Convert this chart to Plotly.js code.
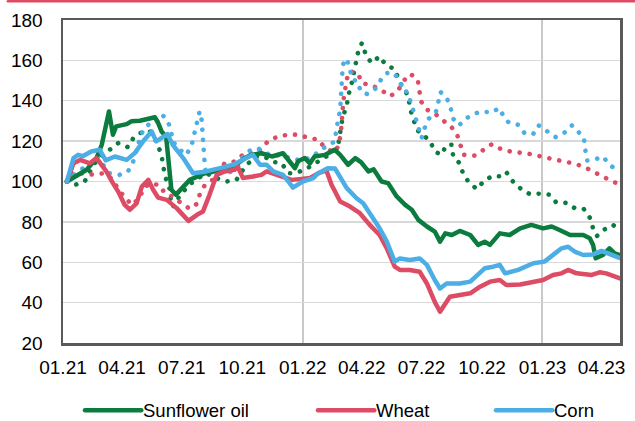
<!DOCTYPE html>
<html>
<head>
<meta charset="utf-8">
<script src="https://cdn.plot.ly/plotly-3.0.1.min.js"></script>
<style>
  html, body { margin: 0; padding: 0; background: #fff; }
  #chart { width: 635px; height: 421px; }
  .scatterlayer path.js-line { stroke-linecap: round; stroke-linejoin: round; }
  .shapelayer path { stroke-linecap: round; }
</style>
</head>
<body>
<div id="chart"></div>
<script>
// ---------- Data (index, 01.2021 = 100) ----------
const tickDates = ['2021-01-01','2021-04-01','2021-07-01','2021-10-01','2022-01-01','2022-04-01','2022-07-01','2022-10-01','2023-01-01','2023-04-01'];
const tickLabels = ['01.21','04.21','07.21','10.21','01.22','04.22','07.22','10.22','01.23','04.23'];

const seriesNames = ['Sunflower oil', 'Wheat', 'Corn'];
const seriesColors = ['#0B7B3E', '#DD4B65', '#4BAFE6'];

// Sunflower oil – solid
const sunflowerDates = ['2021-01-07','2021-01-22','2021-02-06','2021-02-21','2021-03-01','2021-03-12','2021-03-18','2021-03-23','2021-04-08','2021-04-15','2021-04-28','2021-05-21','2021-05-26','2021-05-31','2021-06-07','2021-06-15','2021-06-22','2021-07-13','2021-07-28','2021-08-05','2021-08-20','2021-09-09','2021-09-24','2021-10-05','2021-10-15','2021-10-30','2021-11-15','2021-12-02','2021-12-12','2021-12-20','2021-12-25',
  '2022-01-04','2022-01-12','2022-01-19','2022-02-04','2022-02-19','2022-02-27','2022-03-11','2022-03-22','2022-03-31','2022-04-11','2022-04-19','2022-05-01','2022-05-11','2022-05-24','2022-06-06','2022-06-16','2022-06-26','2022-07-09','2022-07-21','2022-07-29','2022-08-06','2022-08-16','2022-08-28','2022-09-13','2022-09-25','2022-10-05','2022-10-13','2022-10-28','2022-11-12','2022-11-28','2022-12-15',
  '2023-01-02','2023-01-15','2023-01-27','2023-02-12','2023-03-04','2023-03-14','2023-03-19','2023-03-23','2023-04-03','2023-04-13','2023-04-21','2023-04-29'];
const sunflowerValues = [100,103,105.8,111.6,118.2,134.7,123.2,127.3,128.4,129.8,130.1,131.8,128.9,124.8,122.3,95.9,93.5,100.8,103.3,104.1,105,106.6,109,111.6,113.2,114,112.4,114,109.9,106.6,110,
  111.6,109,112.4,113.2,115.7,113.2,108.3,111.6,109.5,105,106,100,99.2,92.6,88.4,86,81,77.7,75.2,70.2,74.3,73.5,75.5,73.5,68.6,70.2,68.6,74.3,73.5,76.8,78.5,
  76.8,77.7,76,73.5,73.5,71.9,68.6,62,63.6,66.9,64.4,63.6];

// Wheat – solid
const wheatDates = ['2021-01-07','2021-01-17','2021-01-27','2021-02-11','2021-02-21','2021-03-08','2021-03-18','2021-03-26','2021-04-05','2021-04-13','2021-04-23','2021-05-01','2021-05-11','2021-05-18','2021-05-26','2021-06-08','2021-06-23','2021-07-11','2021-07-24','2021-08-02','2021-08-12','2021-08-23','2021-09-04','2021-09-19','2021-09-24','2021-10-02','2021-10-17','2021-10-30','2021-11-07','2021-11-17','2021-12-05','2021-12-15','2021-12-30',
  '2022-01-12','2022-01-25','2022-02-06','2022-02-14','2022-02-19','2022-02-27','2022-03-14','2022-03-29','2022-04-13','2022-04-28','2022-05-09','2022-05-21','2022-05-29','2022-06-13','2022-06-28','2022-07-09','2022-07-21','2022-07-29','2022-08-13','2022-08-28','2022-09-13','2022-09-28','2022-10-13','2022-10-28','2022-11-07','2022-11-28','2022-12-18',
  '2023-01-02','2023-01-17','2023-01-30','2023-02-09','2023-02-22','2023-03-17','2023-03-29','2023-04-08','2023-04-29'];
const wheatValues = [100,109,110.7,109,111.6,105,99.2,95,88.4,86,89.2,97.5,100.8,96,92,90.9,86.8,80.5,83.5,85.1,93.4,103.3,105,105.8,107.4,101.7,102.5,103.3,105,104,101.7,100.8,101.3,
  101.7,104.1,105.5,98.3,95,90.1,87.6,84.3,78.5,73.5,66.9,57.8,56.2,56.2,55.3,49.5,40.4,35.5,42.9,43.8,44.6,47.9,50.4,51.2,48.7,49,50.4,
  51.2,53.7,54.5,56.2,54.5,53.7,55,54.5,52];

// Corn – solid
const cornDates = ['2021-01-07','2021-01-17','2021-01-24','2021-01-31','2021-02-13','2021-02-26','2021-03-07','2021-03-21','2021-04-08','2021-04-20','2021-05-03','2021-05-16','2021-05-23','2021-06-02','2021-06-09','2021-06-17','2021-07-03','2021-07-18','2021-08-07','2021-08-28','2021-09-17','2021-10-07','2021-10-17','2021-10-28','2021-11-07','2021-11-17','2021-12-02','2021-12-12','2021-12-17',
  '2022-01-01','2022-01-17','2022-01-24','2022-02-08','2022-02-19','2022-02-27','2022-03-09','2022-03-24','2022-04-03','2022-04-13','2022-04-28','2022-05-09','2022-05-21','2022-05-29','2022-06-13','2022-06-28','2022-07-09','2022-07-21','2022-07-29','2022-08-08','2022-08-28','2022-09-13','2022-09-25','2022-10-05','2022-10-18','2022-10-28','2022-11-05','2022-11-25','2022-12-18',
  '2023-01-04','2023-01-20','2023-01-30','2023-02-09','2023-02-19','2023-03-04','2023-03-19','2023-04-01','2023-04-13','2023-04-29'];
const cornValues = [100,111.6,113.2,112.5,114.9,115.7,110.5,112.4,110.7,114,119.9,124.8,119.9,122.3,123.5,118.2,111.6,104.1,105,106.6,108.3,111.6,113.2,108.3,108.3,105,103.3,99.2,97,
  100,101.7,104,106.6,106.5,101.7,96.7,91.7,89.2,84.3,76.8,70.2,60.3,61.9,61.1,61.9,58.7,51.2,47,49.5,49.5,50.4,53.7,57,57.8,58.7,54.5,56.2,59.5,
  60.3,64.4,66.9,67.7,65.3,63.6,63.9,65.6,63.9,62];

// Sunflower oil – dotted
const sunflowerDotDates = ['2021-01-07','2021-01-19','2021-02-03','2021-02-18','2021-03-03','2021-03-26','2021-04-10','2021-04-18','2021-04-28','2021-05-13','2021-05-23','2021-05-31','2021-06-02','2021-06-07','2021-06-12','2021-06-15','2021-06-20','2021-06-28','2021-07-08','2021-07-18','2021-08-07','2021-08-20','2021-09-07','2021-09-22','2021-10-02','2021-10-10','2021-10-23','2021-11-04','2021-11-14','2021-11-30','2021-12-10','2021-12-20',
  '2022-01-04','2022-01-19','2022-02-01','2022-02-14','2022-02-24','2022-02-27','2022-03-01','2022-03-03','2022-03-09','2022-03-11','2022-03-16','2022-03-19','2022-03-24','2022-03-26','2022-04-01','2022-04-03','2022-04-08','2022-04-16','2022-04-28','2022-05-03','2022-05-11','2022-05-20','2022-05-26','2022-06-01','2022-06-06','2022-06-11','2022-06-13','2022-06-18','2022-06-23','2022-06-28','2022-07-03','2022-07-14','2022-07-21','2022-07-31','2022-08-08','2022-08-16','2022-08-18','2022-08-28','2022-09-02','2022-09-10','2022-09-23','2022-10-04','2022-10-17','2022-10-31','2022-11-07','2022-11-17','2022-11-29','2022-12-13','2022-12-28',
  '2023-01-11','2023-01-22','2023-02-07','2023-02-19','2023-03-05','2023-03-14','2023-03-19','2023-03-25','2023-04-05','2023-04-18','2023-04-28'];
const sunflowerDotValues = [100,98.3,100,109,113.2,119,117,121.5,124,125,119.9,113.2,108.3,101,96.7,87.6,88,93.4,96.7,100,104.1,102,100,100.8,105.8,109,112.4,112.4,109.9,109,104.1,104.1,
  105.8,109,111.6,114,118.2,123.2,127.3,132.3,137.2,142.2,148,152.9,158.7,163.7,168.6,167,162,158.7,162,159.6,157,156,151.3,147.1,144.7,142.2,136.4,131.4,126.4,124,123.2,119.9,114.9,113.2,118.2,118.2,112.4,109,104.1,100,96.2,100.3,102.8,102.5,104.6,100,96.4,93.7,94,
  93.5,89.6,89.4,86.8,86.3,82.1,76.8,73,76.2,78.5,76.4];

// Wheat – dotted
const wheatDotDates = ['2021-01-07','2021-01-12','2021-01-19','2021-02-03','2021-02-18','2021-03-03','2021-03-08','2021-03-18','2021-03-28','2021-04-05','2021-04-15','2021-04-28','2021-05-03','2021-05-13','2021-05-28','2021-06-05','2021-06-20','2021-06-30','2021-07-13','2021-07-24','2021-07-28','2021-08-05','2021-08-20','2021-09-04','2021-09-19','2021-10-05','2021-10-23','2021-11-09','2021-11-24','2021-12-10','2021-12-25',
  '2022-01-09','2022-01-25','2022-02-04','2022-02-19','2022-02-25','2022-02-28','2022-03-01','2022-03-02','2022-03-04','2022-03-09','2022-03-13','2022-03-26','2022-04-01','2022-04-16','2022-05-01','2022-05-14','2022-05-26','2022-06-04','2022-06-14','2022-06-25','2022-06-27','2022-06-30','2022-07-09','2022-07-23','2022-08-03','2022-08-14','2022-08-24','2022-08-29','2022-09-03','2022-09-20','2022-10-03','2022-10-16','2022-10-30','2022-11-15','2022-12-01','2022-12-18',
  '2023-01-02','2023-01-19','2023-02-03','2023-02-19','2023-03-07','2023-03-21','2023-04-05','2023-04-20','2023-04-29'];
const wheatDotValues = [100,104,104.1,104,103.3,104.1,103.5,100.8,95,92.6,88.4,91.7,96.7,99,98.3,94.2,92,89.2,86.5,89,93.4,98.3,101.5,109,109.9,114,114,119.9,122.3,123.2,123.2,
  121.7,120.7,116.5,114.5,118.2,124,129,133.9,140.5,150.5,154.6,153.7,148.8,147.6,145.2,142.2,145,150,153.3,150.5,145,139.7,135.6,133.1,130.1,127.6,123.2,118.2,113.2,112.8,116,118.5,116,114.7,114.2,113.4,
  112.1,111.2,109.9,108.9,107,104.6,102,99.6,99];

// Corn – dotted
const cornDotDates = ['2021-01-07','2021-01-27','2021-02-11','2021-02-21','2021-03-13','2021-03-28','2021-04-10','2021-04-18','2021-04-25','2021-05-03','2021-05-11','2021-05-23','2021-06-01','2021-06-10','2021-06-15','2021-06-17','2021-06-28','2021-07-08','2021-07-16','2021-07-24','2021-07-28','2021-07-31','2021-08-01','2021-08-02','2021-08-04','2021-08-05','2021-08-07','2021-08-17','2021-09-07','2021-09-22','2021-10-05','2021-10-15','2021-10-25','2021-11-04','2021-11-17','2021-12-05','2021-12-25',
  '2022-01-12','2022-01-19','2022-02-01','2022-02-11','2022-02-19','2022-02-21','2022-02-24','2022-02-27','2022-02-28','2022-03-01','2022-03-02','2022-03-03','2022-03-09','2022-03-14','2022-03-18','2022-03-26','2022-03-30','2022-04-09','2022-04-23','2022-05-01','2022-05-09','2022-05-20','2022-05-29','2022-06-03','2022-06-09','2022-06-16','2022-06-21','2022-06-27','2022-07-01','2022-07-06','2022-07-12','2022-07-23','2022-07-30','2022-08-09','2022-08-14','2022-08-18','2022-08-27','2022-09-06','2022-09-18','2022-09-30','2022-10-16','2022-10-27','2022-11-01','2022-11-10','2022-11-25','2022-12-05','2022-12-18','2022-12-26',
  '2023-01-07','2023-01-21','2023-02-04','2023-02-15','2023-02-25','2023-03-05','2023-03-07','2023-03-10','2023-03-23','2023-04-03','2023-04-13','2023-04-27'];
const cornDotValues = [100,105.8,108.3,112.4,104.1,103.3,105,110,118,125.6,128.1,129,133.1,129.8,124,119.9,115.7,113.2,118.2,128.1,134.7,130.6,124,118.2,113.2,107.4,103.3,105,104,106,114,115.7,116.5,114,113.2,112.4,110.7,
  111.6,113.2,116.5,118.2,119.9,125.6,130.6,135.6,141.3,146.3,152.1,157.9,160.9,155.4,150.5,149.6,144.7,143.3,146.3,151,153.7,153.7,149.6,144.7,144.5,137.7,132.3,126.8,121.5,126.8,131.1,134.7,144.3,140.8,136.7,131.1,127.8,131.1,133.4,134.7,134.2,136.4,133.4,129.4,128.1,123.8,123.6,127.8,
  124.8,122,124.3,127.8,124.5,121.5,116,110.4,111.1,112.4,108.3,105];

// ---------- Traces ----------
const dotDash = '0.1px,10px';
const solidSeries = [
  [sunflowerDates, sunflowerValues],
  [wheatDates, wheatValues],
  [cornDates, cornValues]
];
const dottedSeries = [
  [sunflowerDotDates, sunflowerDotValues],
  [wheatDotDates, wheatDotValues],
  [cornDotDates, cornDotValues]
];

const traces = [];
dottedSeries.forEach((s, i) => {
  traces.push({
    x: s[0], y: s[1], type: 'scatter', mode: 'lines',
    name: seriesNames[i] + ' (dotted)', showlegend: false, hoverinfo: 'skip',
    line: { color: seriesColors[i], width: 4.6, dash: dotDash }
  });
});
solidSeries.forEach((s, i) => {
  traces.push({
    x: s[0], y: s[1], type: 'scatter', mode: 'lines',
    name: seriesNames[i], showlegend: false,
    line: { color: seriesColors[i], width: 4.5 }
  });
});

// ---------- Custom legend (paper coordinates) ----------
const legendX = [0.0395, 0.4578, 0.7774];
const legendLen = 0.101;
const legendY = -0.208;
const shapes = [
  // red rule across the top of the figure
  { type: 'line', xref: 'paper', yref: 'paper', x0: -0.099, x1: 1.03, y0: 1.058, y1: 1.058,
    line: { color: '#DD4B65', width: 2.5 } }
];
const annotations = [];
seriesNames.forEach((n, i) => {
  shapes.push({ type: 'line', xref: 'paper', yref: 'paper',
    x0: legendX[i], x1: legendX[i] + legendLen, y0: legendY, y1: legendY,
    line: { color: seriesColors[i], width: 4.5 } });
  annotations.push({ xref: 'paper', yref: 'paper', x: legendX[i] + legendLen + 0.002, y: legendY,
    xanchor: 'left', yanchor: 'middle', showarrow: false, text: n, borderpad: 0,
    font: { family: 'Arial, "Liberation Sans", sans-serif', size: 18.5, color: '#000' } });
});

const layout = {
  width: 635, height: 421,
  margin: { l: 63, r: 15, t: 20, b: 78, pad: 0 },
  paper_bgcolor: '#fff', plot_bgcolor: '#fff',
  showlegend: false,
  font: { family: 'Arial, "Liberation Sans", sans-serif', size: 19, color: '#000' },
  xaxis: {
    type: 'date',
    range: ['2021-01-01', '2023-04-29'],
    tickmode: 'array', tickvals: tickDates, ticktext: tickLabels,
    showgrid: false, zeroline: false,
    showline: true, mirror: true, linecolor: '#595959', linewidth: 2.5,
    ticks: '', ticklabelstandoff: 6,
    tickfont: { size: 19, color: '#000' },
    minor: { dtick: 'M12', tick0: '2021-01-01', showgrid: true, gridcolor: '#C9C9C9', gridwidth: 2, ticks: '' }
  },
  yaxis: {
    range: [20, 180], dtick: 20, tick0: 20,
    showgrid: true, gridcolor: '#D9D9D9', gridwidth: 1.3, zeroline: false,
    showline: true, mirror: true, linecolor: '#595959', linewidth: 2.5,
    ticks: '', ticklabelstandoff: 14,
    tickfont: { size: 19, color: '#000' }
  },
  shapes: shapes,
  annotations: annotations
};

Plotly.newPlot('chart', traces, layout, { staticPlot: true, displayModeBar: false });
</script>
</body>
</html>
